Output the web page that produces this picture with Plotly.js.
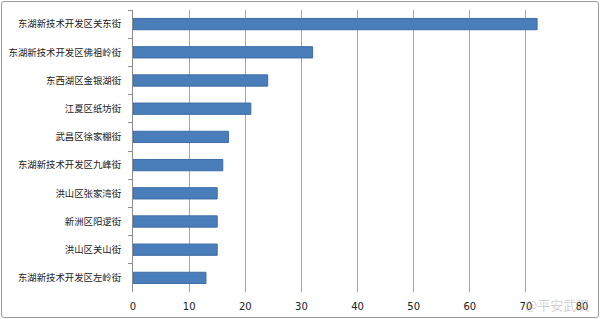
<!DOCTYPE html>
<html><head><meta charset="utf-8">
<script src="https://cdn.plot.ly/plotly-3.0.1.min.js"></script>
<style>
html,body{margin:0;padding:0;background:#fff;}
#chart{position:absolute;left:0;top:0;width:600px;height:319px;}
#frame{position:absolute;left:1px;top:1px;width:596px;height:315px;border:1px solid #9a9a9a;border-radius:3px;pointer-events:none;}
</style></head>
<body>
<div id="chart"></div>
<div id="frame"></div>
<script>
const categories = ["东湖新技术开发区关东街","东湖新技术开发区佛祖岭街","东西湖区金银湖街","江夏区纸坊街","武昌区徐家棚街","东湖新技术开发区九峰街","洪山区张家湾街","新洲区阳逻街","洪山区关山街","东湖新技术开发区左岭街"];
const values = [72, 32, 24, 21, 17, 16, 15, 15, 15, 13];
const xTicks = [0,10,20,30,40,50,60,70,80];

const trace = {
  type: 'bar', orientation: 'h',
  x: values, y: categories,
  marker: {color: '#4a7ebb', line: {color: '#3d6ca5', width: 1}},
  hoverinfo: 'none'
};
const layout = {
  width: 600, height: 319,
  margin: {l: 133, r: 18, t: 10, b: 27},
  paper_bgcolor: '#fff', plot_bgcolor: '#fff',
  bargap: 0.6,
  showlegend: false,
  font: {family: '"Noto Sans CJK SC", "DejaVu Sans", sans-serif', size: 10, color: '#222'},
  xaxis: {
    range: [0, 80], tickvals: xTicks, ticktext: xTicks.map(String),
    showgrid: true, gridcolor: '#a6a6a6', gridwidth: 1,
    zeroline: false, showline: false, ticks: '',
    ticklabelstandoff: 7,
    tickfont: {size: 10, color: '#222', family: '"DejaVu Sans", sans-serif'},
    fixedrange: true
  },
  yaxis: {
    autorange: 'reversed', type: 'category',
    showline: true, linecolor: '#8c8c8c', linewidth: 1,
    ticks: 'outside', tickson: 'boundaries', ticklen: 4, tickcolor: '#8c8c8c',
    ticklabelstandoff: 9,
    showgrid: false, zeroline: false,
    tickfont: {size: 9.4, color: '#222'},
    fixedrange: true
  },
  annotations: [{
    xref: 'paper', yref: 'paper', x: 1.02, y: -0.046, xanchor: 'right', yanchor: 'middle',
    text: '@平安武汉', showarrow: false,
    font: {size: 13, color: 'rgba(170,170,170,0.55)'}
  }]
};
Plotly.newPlot('chart', [trace], layout, {displayModeBar: false, staticPlot: true});
</script>
</body></html>
